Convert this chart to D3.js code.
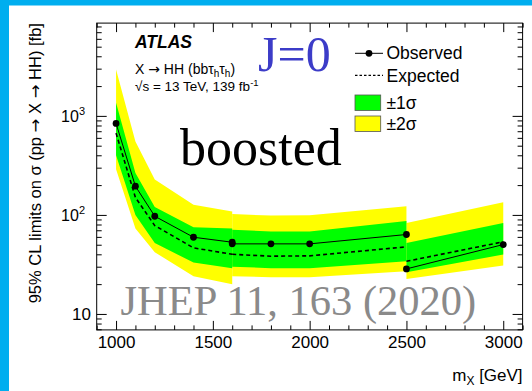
<!DOCTYPE html>
<html><head><meta charset="utf-8">
<script src="https://cdn.jsdelivr.net/npm/d3@7"></script>
<style>body{margin:0;background:#fff}svg{display:block}</style>
</head><body>
<svg id="c" width="532" height="391"></svg>
<script>
// ---- data ----
const mass     = [1000, 1100, 1200, 1400, 1600,  1600, 1800, 2000, 2500,  2500, 3000];
const segment  = [0, 0, 0, 0, 0,  1, 1, 1, 1,  2, 2];
const observed = [840, 195, 97, 59.5, 53,  51, 51, 51, 63.4,  28.5, 50.2];
const expected = [670, 150, 78, 46.5, 40,  40, 38.3, 38.6, 47.6,  34, 53.5];
const plus2    = [2940, 550, 228, 127, 108,  102, 98.6, 99, 122,  83, 134];
const plus1    = [1355, 265, 120, 75, 73,  71, 68, 68, 87,  52, 83];
const minus1   = [400, 100, 52, 33, 29,  30, 29, 29, 34,  26.4, 39.8];
const minus2   = [290, 73, 42, 24, 20,  24, 23.5, 23.5, 27,  22.6, 30.8];
const xMajorTicks = [1000, 1500, 2000, 2500, 3000];
const yMajorTicks = [10, 100, 1000];
const yTickLabels = [["10", ""], ["10", "2"], ["10", "3"]];

// ---- layout ----
const W = 532, H = 391;
const L = 96.7, R = 522.6, T = 23.1, B = 329.9;
const svg = d3.select("#c");
const SANS = "'Liberation Sans', Arial, Helvetica, sans-serif";
const SERIF = "'Liberation Serif', 'Times New Roman', serif";
const ARROWF = "'DejaVu Sans', sans-serif";

// background strips
svg.append("rect").attr("x", 0).attr("y", 0).attr("width", W).attr("height", 5.5).attr("fill", "#00aeef");
svg.append("rect").attr("x", 0).attr("y", 0).attr("width", 9).attr("height", H).attr("fill", "#00aeef");

const x = d3.scaleLinear().domain([900, 3100]).range([L, R]);
const y = d3.scaleLog().domain([6.9, 8650]).range([B, T]);

svg.append("clipPath").attr("id", "clip").append("rect")
  .attr("x", L).attr("y", T).attr("width", R - L).attr("height", B - T);
const plot = svg.append("g").attr("clip-path", "url(#clip)");

const pts = mass.map((m, i) => ({m, seg: segment[i], obs: observed[i], exp: expected[i],
  p2: plus2[i], p1: plus1[i], m1: minus1[i], m2: minus2[i]}));
const segs = d3.groups(pts, d => d.seg).map(g => g[1]);

const area2 = d3.area().x(d => x(d.m)).y0(d => y(d.m2)).y1(d => y(d.p2));
const area1 = d3.area().x(d => x(d.m)).y0(d => y(d.m1)).y1(d => y(d.p1));
const lineObs = d3.line().x(d => x(d.m)).y(d => y(d.obs));
const lineExp = d3.line().x(d => x(d.m)).y(d => y(d.exp));

segs.forEach(s => plot.append("path").attr("d", area2(s)).attr("fill", "#ffff00"));
segs.forEach(s => plot.append("path").attr("d", area1(s)).attr("fill", "#00ff00"));
segs.forEach(s => plot.append("path").attr("d", lineExp(s)).attr("fill", "none")
  .attr("stroke", "#000").attr("stroke-width", 1.6).attr("stroke-dasharray", "4,3"));
segs.forEach(s => plot.append("path").attr("d", lineObs(s)).attr("fill", "none")
  .attr("stroke", "#000").attr("stroke-width", 1));
plot.selectAll("circle.obs").data(pts).join("circle").attr("class", "obs")
  .attr("cx", d => x(d.m)).attr("cy", d => y(d.obs)).attr("r", 3.4).attr("fill", "#000");

// ---- axes (ticks inside, ROOT style) ----
const xMinor = d3.range(900, 3101, 100).filter(v => v % 500 !== 0);
const yMinor = [];
[1, 10, 100, 1000].forEach(d => { for (let k = 2; k <= 9; k++) { const v = k * d; if (v >= 6.9 && v <= 8650) yMinor.push(v); } });

function styleAxis(g) { g.select(".domain").remove(); g.selectAll("line").attr("stroke", "#000"); }

svg.append("g").attr("transform", `translate(0,${B})`)
  .call(d3.axisBottom(x).tickValues(xMajorTicks).tickSize(-9).tickPadding(6).tickFormat(d3.format("d")))
  .call(styleAxis)
  .call(g => g.selectAll("text").attr("font-family", SANS).attr("font-size", 17).attr("fill", "#000"));
svg.append("g").attr("transform", `translate(0,${B})`)
  .call(d3.axisBottom(x).tickValues(xMinor).tickSize(-4.5).tickFormat("")).call(styleAxis);
svg.append("g").attr("transform", `translate(0,${T})`)
  .call(d3.axisTop(x).tickValues(xMajorTicks).tickSize(-9).tickFormat("")).call(styleAxis);
svg.append("g").attr("transform", `translate(0,${T})`)
  .call(d3.axisTop(x).tickValues(xMinor).tickSize(-4.5).tickFormat("")).call(styleAxis);

svg.append("g").attr("transform", `translate(${L},0)`)
  .call(d3.axisLeft(y).tickValues(yMajorTicks).tickSize(-10).tickFormat("")).call(styleAxis);
svg.append("g").attr("transform", `translate(${L},0)`)
  .call(d3.axisLeft(y).tickValues(yMinor).tickSize(-5).tickFormat("")).call(styleAxis);
svg.append("g").attr("transform", `translate(${R},0)`)
  .call(d3.axisRight(y).tickValues(yMajorTicks).tickSize(-10).tickFormat("")).call(styleAxis);
svg.append("g").attr("transform", `translate(${R},0)`)
  .call(d3.axisRight(y).tickValues(yMinor).tickSize(-5).tickFormat("")).call(styleAxis);

// y tick labels
yMajorTicks.forEach((v, i) => {
  const [base, exp] = yTickLabels[i];
  const t = svg.append("text").attr("font-family", SANS).attr("fill", "#000")
    .attr("text-anchor", "end").attr("y", y(v) + 6);
  if (exp) {
    t.attr("x", 85).attr("font-size", 16);
    t.append("tspan").text(base);
    t.append("tspan").attr("font-size", 11).attr("dy", -7).text(exp);
  } else {
    t.attr("x", 91).attr("font-size", 17).text(base);
  }
});

// frame
svg.append("rect").attr("x", L).attr("y", T).attr("width", R - L).attr("height", B - T)
  .attr("fill", "none").attr("stroke", "#000").attr("stroke-width", 1);

// text helper: arrows drawn with a font that has a long arrow glyph
function addParts(t, parts) {
  parts.forEach(p => {
    const s = t.append("tspan").text(p);
    if (p === "→") s.attr("font-family", ARROWF);
  });
}

// axis titles
const yt = svg.append("text").attr("font-family", SANS).attr("font-size", 16.5).attr("fill", "#000")
  .attr("text-anchor", "end").attr("transform", `translate(41,${T}) rotate(-90)`);
addParts(yt, ["95% CL limits on σ (pp ", "→", " X ", "→", " HH) [fb]"]);

const xt = svg.append("text").attr("font-family", SANS).attr("font-size", 17).attr("fill", "#000")
  .attr("text-anchor", "end").attr("x", R).attr("y", 381);
xt.append("tspan").text("m");
xt.append("tspan").attr("font-size", 12).attr("dy", 4).text("X");
xt.append("tspan").attr("dy", -4).text(" [GeV]");

// ATLAS labels
svg.append("text").attr("x", 135).attr("y", 47.5).attr("font-family", SANS)
  .attr("font-weight", "bold").attr("font-style", "italic").attr("font-size", 17.5).text("ATLAS");
const l2 = svg.append("text").attr("x", 135).attr("y", 73.5).attr("font-family", SANS).attr("font-size", 14);
addParts(l2, ["X ", "→", " HH (bbτ"]);
l2.append("tspan").attr("font-size", 10).attr("dy", 3).text("h");
l2.append("tspan").attr("dy", -3).text("τ");
l2.append("tspan").attr("font-size", 10).attr("dy", 3).text("h");
l2.append("tspan").attr("dy", -3).text(")");
const l3 = svg.append("text").attr("x", 135).attr("y", 91).attr("font-family", SANS).attr("font-size", 13.5);
l3.append("tspan").text("√s = 13 TeV, 139 fb");
l3.append("tspan").attr("font-size", 9.5).attr("dy", -5).text("-1");

// overlay annotations
svg.append("text").attr("x", 258).attr("y", 71.3).attr("font-family", SERIF).attr("font-size", 50)
  .attr("fill", "#3c3cc8").text("J=0");
svg.append("text").attr("x", 180).attr("y", 164.5).attr("font-family", SERIF).attr("font-size", 52)
  .attr("fill", "#000").text("boosted");
svg.append("text").attr("x", 120.5).attr("y", 315.3).attr("font-family", SERIF).attr("font-size", 42.5)
  .attr("fill", "#8a8a8a").text("JHEP 11, 163 (2020)");

// legend
const lg = svg.append("g");
lg.append("line").attr("x1", 355).attr("x2", 383).attr("y1", 53.3).attr("y2", 53.3).attr("stroke", "#000");
lg.append("circle").attr("cx", 369).attr("cy", 53.3).attr("r", 3.4).attr("fill", "#000");
lg.append("line").attr("x1", 355).attr("x2", 383).attr("y1", 75.3).attr("y2", 75.3).attr("stroke", "#000")
  .attr("stroke-width", 1.3).attr("stroke-dasharray", "2.5,2");
lg.append("rect").attr("x", 355).attr("y", 95).attr("width", 25.7).attr("height", 15.5)
  .attr("fill", "#00ff00").attr("stroke", "#555").attr("stroke-width", 0.8);
lg.append("rect").attr("x", 355).attr("y", 116).attr("width", 25.7).attr("height", 15.5)
  .attr("fill", "#ffff00").attr("stroke", "#555").attr("stroke-width", 0.8);
const legText = [["Observed", 59], ["Expected", 81.7], ["±1σ", 108.5], ["±2σ", 129.5]];
legText.forEach(([t, yy]) => lg.append("text").attr("x", 386.5).attr("y", yy)
  .attr("font-family", SANS).attr("font-size", 17.5).attr("fill", "#000").text(t));
</script>
</body></html>
